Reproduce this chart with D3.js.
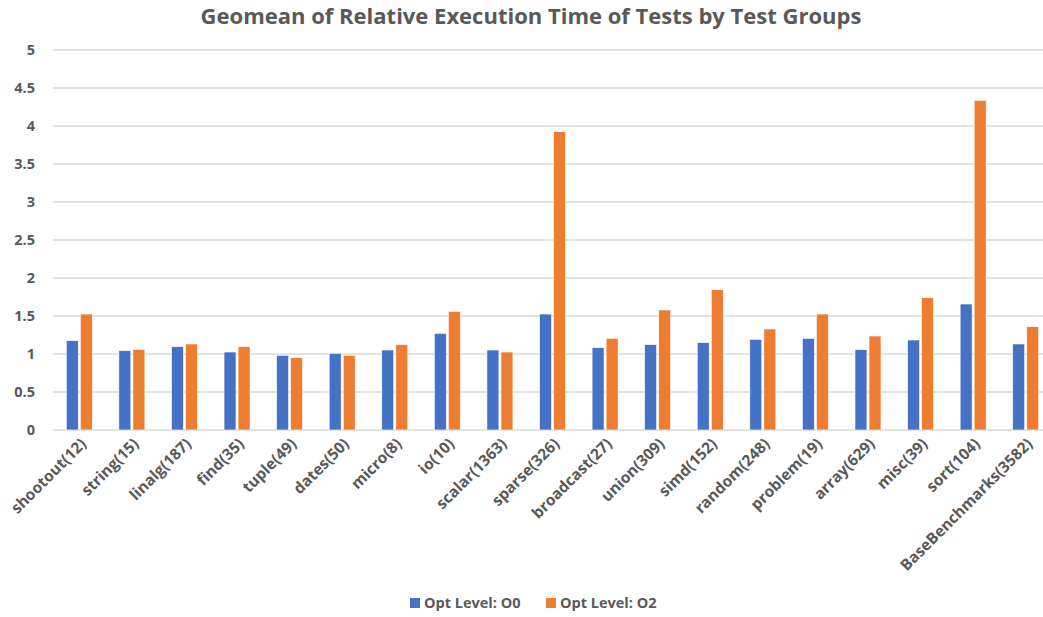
<!DOCTYPE html>
<html>
<head>
<meta charset="utf-8">
<script src="https://cdn.jsdelivr.net/npm/d3@7"></script>
<style>
  body { margin: 0; background: #fff; }
  text { font-family: "Open Sans", "Noto Sans", sans-serif; font-weight: bold; fill: #595959; }
</style>
</head>
<body>
<div id="chart"></div>
<script>
// test groups and the geomean of relative execution time per opt level
const groups = ["shootout(12)", "string(15)", "linalg(187)", "find(35)", "tuple(49)", "dates(50)",
  "micro(8)", "io(10)", "scalar(1363)", "sparse(326)", "broadcast(27)", "union(309)", "simd(152)",
  "random(248)", "problem(19)", "array(629)", "misc(39)", "sort(104)", "BaseBenchmarks(3582)"];
const optO0 = [1.175, 1.044, 1.096, 1.026, 0.982, 1.009, 1.053, 1.272, 1.053, 1.526, 1.083, 1.123,
  1.149, 1.193, 1.206, 1.057, 1.184, 1.658, 1.132];
const optO2 = [1.526, 1.061, 1.132, 1.096, 0.952, 0.982, 1.123, 1.561, 1.026, 3.925, 1.206, 1.579,
  1.846, 1.329, 1.526, 1.237, 1.741, 4.338, 1.360];
const seriesNames = ["Opt Level: O0", "Opt Level: O2"];
const yTicks = [0, 0.5, 1, 1.5, 2, 2.5, 3, 3.5, 4, 4.5, 5];

const width = 1043, height = 617;
const colors = ["#4472c4", "#ed7d31"];

const svg = d3.select("#chart").append("svg")
  .attr("width", width).attr("height", height);

// plot area runs a little past the right edge, like the cropped original
const x = d3.scaleBand().domain(groups).range([53, 1052]);
const y = d3.scaleLinear().domain([0, 5]).range([430, 50]);
const inner = d3.scaleBand().domain([0, 1]).range([13.3, 39.3]).paddingInner(0.15);

svg.append("text")
  .attr("x", 531).attr("y", 24)
  .attr("text-anchor", "middle")
  .style("font-size", "22px")
  .text("Geomean of Relative Execution Time of Tests by Test Groups");

// gridlines
svg.append("g").selectAll("line")
  .data(yTicks)
  .join("line")
  .attr("x1", 53).attr("x2", width)
  .attr("y1", d => y(d)).attr("y2", d => y(d))
  .attr("stroke", "#d9d9d9")
  .attr("stroke-width", 1.3);

// y axis labels
svg.append("g").selectAll("text")
  .data(yTicks)
  .join("text")
  .attr("x", 35).attr("y", d => y(d))
  .attr("dy", "0.35em")
  .attr("text-anchor", "end")
  .style("font-size", "14.5px")
  .text(d => d);

// bars
const series = [optO0, optO2];
series.forEach((vals, s) => {
  svg.append("g").selectAll("rect")
    .data(groups)
    .join("rect")
    .attr("x", d => x(d) + inner(s))
    .attr("y", (d, i) => y(vals[i]))
    .attr("width", inner.bandwidth())
    .attr("height", (d, i) => y(0) - y(vals[i]))
    .attr("fill", colors[s])
    .attr("stroke", "#fff")
    .attr("stroke-width", 0.6);
});

// x labels rotated
svg.append("g").selectAll("text")
  .data(groups)
  .join("text")
  .attr("transform", d => `translate(${x(d) + x.bandwidth() / 2 + 4},${441}) rotate(-45)`)
  .attr("text-anchor", "end")
  .attr("dy", "0.35em")
  .style("font-size", "15.5px")
  .text(d => d);

// legend
const legend = svg.append("g");
const legX = [410, 546];
seriesNames.forEach((name, i) => {
  legend.append("rect")
    .attr("x", legX[i]).attr("y", 598)
    .attr("width", 10).attr("height", 10)
    .attr("fill", colors[i]);
  legend.append("text")
    .attr("x", legX[i] + 14).attr("y", 603)
    .attr("dy", "0.35em")
    .style("font-size", "14.5px")
    .text(name);
});
</script>
</body>
</html>
